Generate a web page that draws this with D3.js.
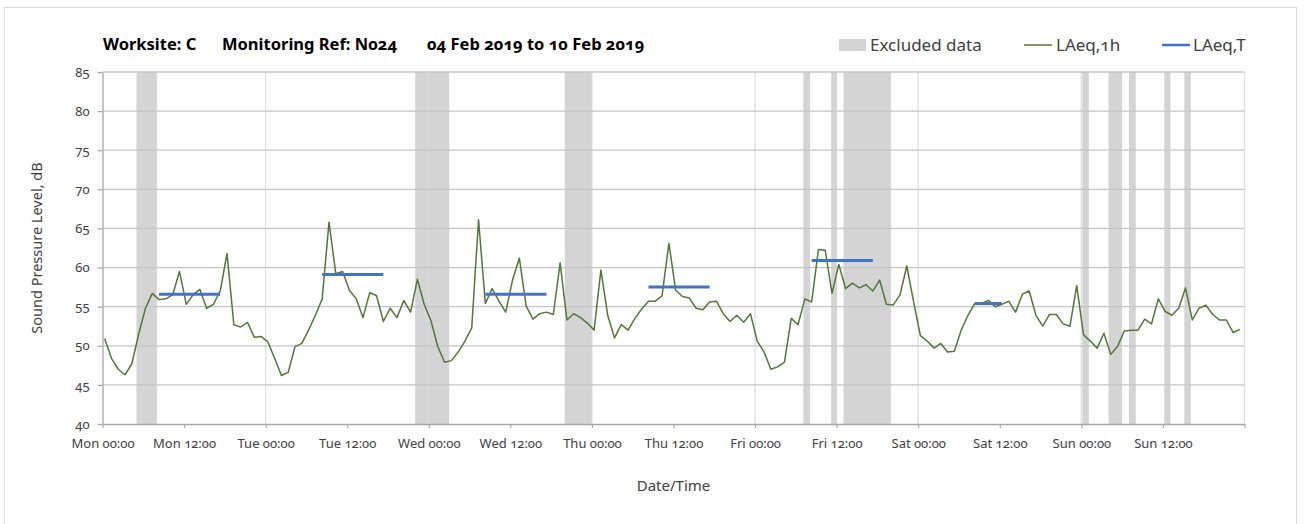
<!DOCTYPE html>
<html>
<head>
<meta charset="utf-8">
<script src="https://cdn.jsdelivr.net/npm/d3@7"></script>
<style>
  html, body { margin: 0; padding: 0; background: #ffffff; }
  svg { display: block; font-family: "Noto Sans", "Open Sans", sans-serif; font-variant-numeric: oldstyle-nums; }
</style>
</head>
<body>
<svg id="chart" width="1307" height="524"></svg>
<script>
// ---------------- DATA ----------------
const titleParts = ["Worksite: C", "Monitoring Ref: N024", "04 Feb 2019 to 10 Feb 2019"];
const legendLabels = ["Excluded data", "LAeq,1h", "LAeq,T"];
const yAxisTitle = "Sound Pressure Level, dB";
const xAxisTitle = "Date/Time";

// Hourly LAeq,1h values, Mon 00:00 .. Sun 23:00 (168 values)
const laeq1h = [
  // Mon
  50.9, 48.4, 47.0, 46.3, 47.7, 51.5, 54.8, 56.7, 55.9, 56.0, 56.5, 59.5,
  55.3, 56.5, 57.2, 54.8, 55.3, 57.0, 61.8, 52.7, 52.4, 53.0, 51.1, 51.2,
  // Tue
  50.5, 48.4, 46.2, 46.6, 49.9, 50.3, 52.0, 53.9, 56.0, 65.8, 59.2, 59.5,
  57.1, 56.0, 53.6, 56.8, 56.4, 53.1, 54.8, 53.6, 55.8, 54.3, 58.5, 55.3,
  // Wed
  53.2, 49.9, 47.9, 48.1, 49.2, 50.6, 52.3, 66.1, 55.4, 57.3, 55.7, 54.3,
  58.4, 61.2, 55.1, 53.4, 54.1, 54.3, 54.0, 60.6, 53.3, 54.1, 53.6, 52.9,
  // Thu
  52.0, 59.7, 53.9, 51.0, 52.7, 52.0, 53.5, 54.7, 55.7, 55.7, 56.4, 63.1,
  57.1, 56.3, 56.1, 54.8, 54.6, 55.6, 55.7, 54.1, 53.1, 53.9, 53.0, 54.1,
  // Fri
  50.6, 49.2, 47.0, 47.3, 47.9, 53.5, 52.7, 56.0, 55.6, 62.3, 62.2, 56.7,
  60.4, 57.3, 58.0, 57.4, 57.8, 57.0, 58.4, 55.3, 55.2, 56.5, 60.2, 55.6,
  // Sat
  51.3, 50.6, 49.7, 50.3, 49.2, 49.3, 52.0, 53.9, 55.4, 55.4, 55.8, 55.0,
  55.3, 55.7, 54.3, 56.6, 57.0, 53.9, 52.5, 54.0, 54.0, 52.8, 52.5, 57.7,
  // Sun
  51.4, 50.6, 49.7, 51.6, 48.9, 49.9, 51.9, 52.0, 52.0, 53.4, 52.8, 56.0,
  54.4, 53.9, 54.8, 57.4, 53.3, 54.8, 55.2, 54.0, 53.3, 53.3, 51.7, 52.1
];

// LAeq,T periods (hour index from Mon 00:00)
const laeqTStart = [8, 32, 56, 80, 104, 128];
const laeqTEnd   = [17, 41, 65, 89, 113, 132];
const laeqTValue = [56.6, 59.1, 56.6, 57.5, 60.9, 55.4];

// Excluded data periods (hours from Mon 00:00)
const excludedStart = [5, 46, 68, 103.1, 107.2, 109, 144.15, 148, 151, 156.2, 159.15];
const excludedEnd   = [8, 51, 72, 104.1, 108.05, 116, 145.1, 150, 152, 157.1, 160.1];

const yTicks = [40, 45, 50, 55, 60, 65, 70, 75, 80, 85];
const xTickHours = d3.range(0, 169, 12);
const xTickLabels = ["Mon 00:00", "Mon 12:00", "Tue 00:00", "Tue 12:00", "Wed 00:00", "Wed 12:00",
  "Thu 00:00", "Thu 12:00", "Fri 00:00", "Fri 12:00", "Sat 00:00", "Sat 12:00", "Sun 00:00", "Sun 12:00", ""];
const gridDays = [24, 48, 72, 96, 120, 144, 168];

// ---------------- LAYOUT ----------------
const svg = d3.select("#chart");
const plot = { left: 102.5, right: 1244.5, top: 72, bottom: 424 };
const POINT_OFFSET = 0.32; // hourly samples are drawn slightly after the hour mark

const x = d3.scaleLinear().domain([0, 168]).range([plot.left, plot.right]);
const y = d3.scaleLinear().domain([40, 85]).range([plot.bottom, plot.top]);

const GREEN = "#54763a";
const BLUE = "#4472c4";
const BAND = "#d4d4d4";
const TEXT = "#404040";

// Outer chart border
svg.append("rect")
  .attr("x", 4.5).attr("y", 7.5).attr("width", 1292).attr("height", 530)
  .attr("fill", "none").attr("stroke", "#d9d9d9").attr("stroke-width", 1);

// Excluded bands
svg.append("g").selectAll("rect")
  .data(excludedStart.map((s, i) => ({ s, e: excludedEnd[i] })))
  .join("rect")
  .attr("x", d => x(d.s))
  .attr("width", d => x(d.e) - x(d.s))
  .attr("y", plot.top)
  .attr("height", plot.bottom - plot.top)
  .attr("fill", BAND);

// Vertical gridlines (daily)
svg.append("g").selectAll("line")
  .data(gridDays)
  .join("line")
  .attr("x1", d => x(d)).attr("x2", d => x(d))
  .attr("y1", plot.top).attr("y2", plot.bottom)
  .attr("stroke", "#d9d9d9").attr("stroke-width", 1.3)
  .attr("stroke-opacity", 0.85);

// Horizontal gridlines
svg.append("g").selectAll("line")
  .data(yTicks.filter(d => d > 40))
  .join("line")
  .attr("x1", plot.left).attr("x2", plot.right)
  .attr("y1", d => y(d)).attr("y2", d => y(d))
  .attr("stroke", "#c6c6c6").attr("stroke-width", 1.3);

// Axes
const yAxis = d3.axisLeft(y).tickValues(yTicks).tickSize(5).tickSizeOuter(0).tickPadding(8).tickFormat(d3.format("d"));
const gy = svg.append("g").attr("transform", `translate(${plot.left},0)`).call(yAxis);
gy.select(".domain").attr("stroke", "#a6a6a6").attr("stroke-width", 1.3);
gy.selectAll(".tick line").attr("stroke", "#a6a6a6").attr("stroke-width", 1.2);
gy.selectAll(".tick text").attr("fill", TEXT).style("font-size", "13px")
  .style("font-family", "'Noto Sans', sans-serif");

const xAxis = d3.axisBottom(x).tickValues(xTickHours).tickSize(4).tickSizeOuter(0).tickPadding(11)
  .tickFormat((d, i) => xTickLabels[i]);
const gx = svg.append("g").attr("transform", `translate(0,${plot.bottom})`).call(xAxis);
gx.select(".domain").attr("stroke", "#a6a6a6").attr("stroke-width", 1.3);
gx.selectAll(".tick line").attr("stroke", "#a6a6a6").attr("stroke-width", 1.2);
gx.selectAll(".tick text").attr("fill", TEXT).style("font-size", "13px")
  .style("font-family", "'Noto Sans', sans-serif");

// LAeq,1h line
const line = d3.line()
  .x((d, i) => x(i + POINT_OFFSET))
  .y(d => y(d));
svg.append("path")
  .datum(laeq1h)
  .attr("d", line)
  .attr("fill", "none")
  .attr("stroke", GREEN)
  .attr("stroke-width", 1.5)
  .attr("stroke-linejoin", "round");

// LAeq,T segments
svg.append("g").selectAll("line")
  .data(laeqTStart.map((s, i) => ({ s, e: laeqTEnd[i], v: laeqTValue[i] })))
  .join("line")
  .attr("x1", d => x(d.s + POINT_OFFSET))
  .attr("x2", d => x(d.e + POINT_OFFSET))
  .attr("y1", d => y(d.v)).attr("y2", d => y(d.v))
  .attr("stroke", BLUE).attr("stroke-width", 3);

// Title
const titleX = [103, 222, 427];
svg.append("g").selectAll("text")
  .data(titleParts)
  .join("text")
  .attr("x", (d, i) => titleX[i])
  .attr("y", 49.5)
  .attr("fill", "#000")
  .style("font-size", "16.5px")
  .style("font-weight", "bold")
  .text(d => d);

// Legend
const lg = svg.append("g").style("font-size", "17px").attr("fill", TEXT);
lg.append("rect").attr("x", 839).attr("y", 39).attr("width", 27).attr("height", 12).attr("fill", BAND);
lg.append("text").attr("x", 870).attr("y", 51).attr("fill", TEXT).text(legendLabels[0]);
lg.append("line").attr("x1", 1024).attr("x2", 1052).attr("y1", 45).attr("y2", 45)
  .attr("stroke", GREEN).attr("stroke-width", 1.5);
lg.append("text").attr("x", 1056).attr("y", 51).attr("fill", TEXT).text(legendLabels[1]);
lg.append("line").attr("x1", 1162).attr("x2", 1190).attr("y1", 45).attr("y2", 45)
  .attr("stroke", BLUE).attr("stroke-width", 2.5);
lg.append("text").attr("x", 1193).attr("y", 51).attr("fill", TEXT).text(legendLabels[2]);

// Axis titles
svg.append("text")
  .attr("transform", `translate(42,${(plot.top + plot.bottom) / 2}) rotate(-90)`)
  .attr("text-anchor", "middle")
  .attr("fill", TEXT)
  .style("font-size", "14.5px")
  .text(yAxisTitle);

svg.append("text")
  .attr("x", (plot.left + plot.right) / 2)
  .attr("y", 491)
  .attr("text-anchor", "middle")
  .attr("fill", TEXT)
  .style("font-size", "15px")
  .text(xAxisTitle);
</script>
</body>
</html>
